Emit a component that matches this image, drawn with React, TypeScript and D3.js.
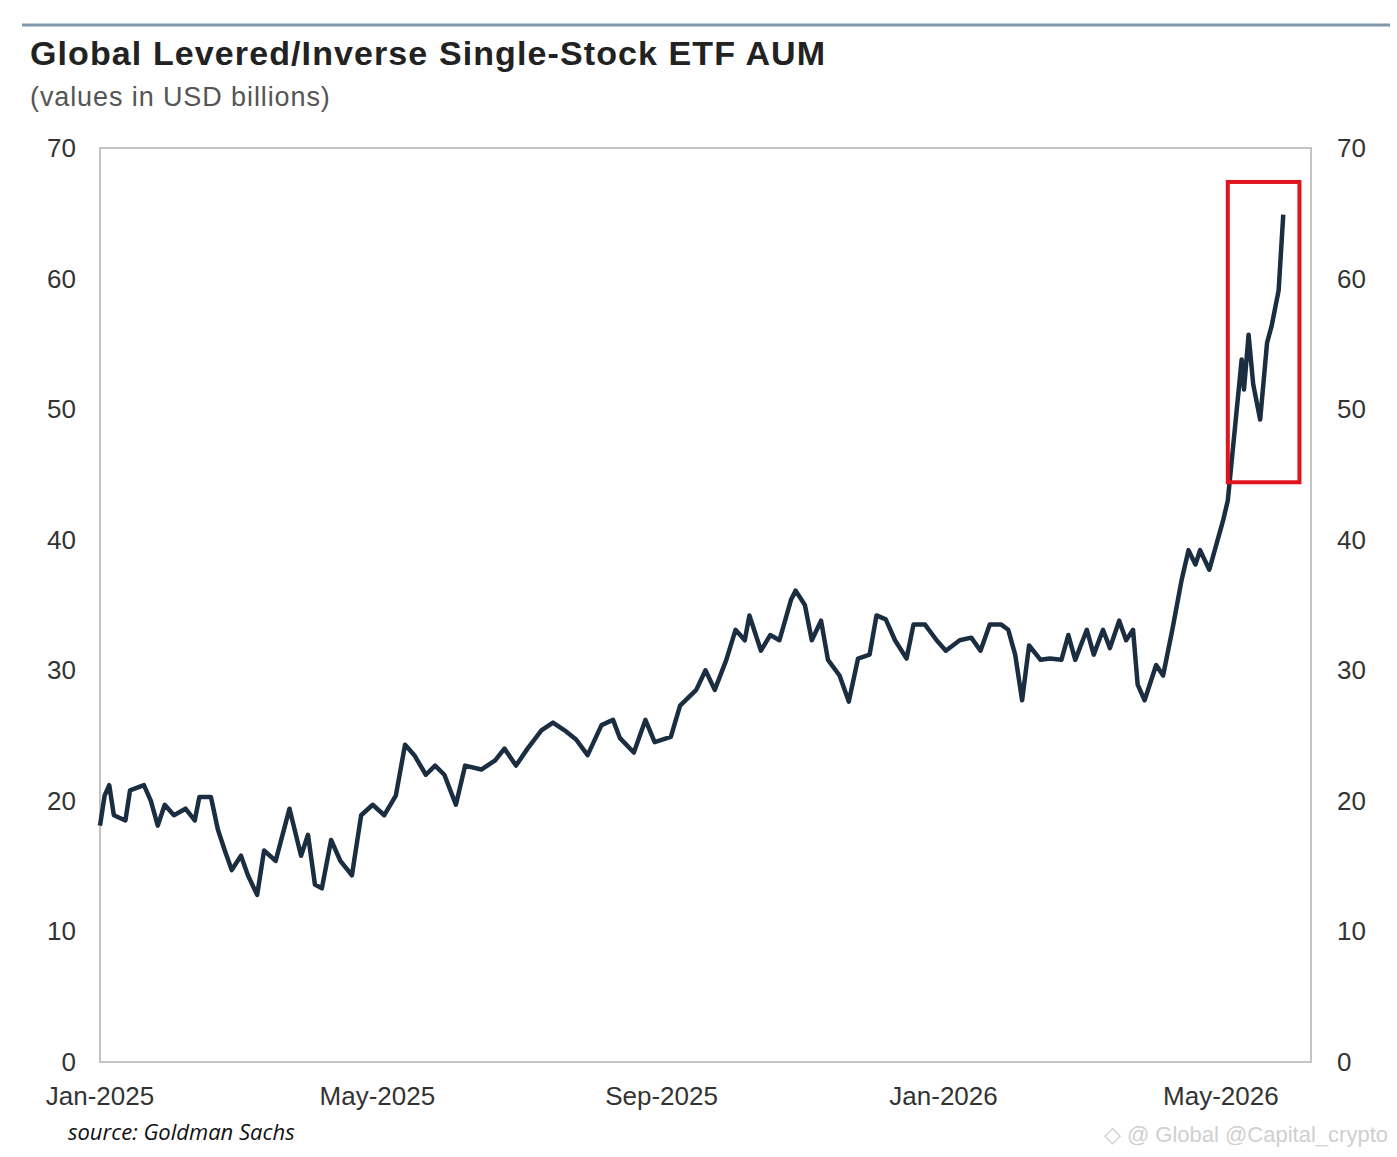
import * as d3 from 'd3';

// days since 2025-01-01 and AUM (USD bn)
const days = [0,2,4,6,11,13,19,22,25,28,32,37,41,43,48,51,54,57,61,64,68,71,76,82,87,90,93,96,100,104,109,113,118,123,128,132,136,141,145,149,154,158,165,171,175,180,185,191,196,201,206,211,217,222,225,231,236,240,247,251,258,262,266,271,275,279,281,286,290,294,299,301,305,308,312,315,320,324,328,333,336,340,344,349,352,357,362,366,372,377,381,385,390,393,396,399,402,407,411,416,419,422,427,430,434,437,441,444,447,449,452,457,460,464,468,471,474,476,480,483,486,488,491,494,495,497,499,502,505,507,510,512];
const aum = [18.1,20.4,21.2,18.9,18.5,20.8,21.2,20,18.1,19.7,18.9,19.4,18.5,20.3,20.3,17.8,16.2,14.7,15.8,14.3,12.8,16.2,15.4,19.4,15.8,17.4,13.6,13.3,17,15.4,14.3,18.9,19.7,18.9,20.4,24.3,23.5,22,22.7,22,19.7,22.7,22.4,23.1,24,22.7,24,25.4,26,25.4,24.7,23.5,25.8,26.2,24.8,23.7,26.2,24.5,24.9,27.3,28.5,30,28.5,30.8,33.1,32.3,34.2,31.5,32.7,32.3,35.4,36.1,35,32.3,33.8,30.8,29.6,27.6,30.9,31.2,34.2,33.9,32.3,30.9,33.5,33.5,32.3,31.5,32.3,32.5,31.5,33.5,33.5,33.1,31.2,27.7,31.9,30.8,30.9,30.8,32.7,30.8,33.1,31.2,33.1,31.7,33.8,32.3,33.1,28.9,27.7,30.4,29.6,33.1,36.9,39.2,38.1,39.2,37.7,39.6,41.5,43,48.4,53.8,51.5,55.7,51.9,49.2,55.1,56.4,59.1,64.9];
const yTicks = [0, 10, 20, 30, 40, 50, 60, 70];
const xTicks = ['2025-01-01', '2025-05-01', '2025-09-01', '2026-01-01', '2026-05-01'];
const xTickLabels = ['Jan-2025', 'May-2025', 'Sep-2025', 'Jan-2026', 'May-2026'];
const highlight = { fromDay: 488, toDay: 519, low: 44.4, high: 67.4 };

const start = new Date(2025, 0, 1);
const toDate = (d: number) => d3.timeDay.offset(start, d);

export default function App() {
  const W = 1397, H = 1157;
  const L = 100, R = 1311, T = 148, B = 1062;
  const x = d3.scaleTime().domain([start, new Date(2026, 5, 9)]).range([L, R]);
  const y = d3.scaleLinear().domain([0, 70]).range([B, T]);
  const line = d3.line<number>().x((_, i) => x(toDate(days[i]))).y(v => y(v));
  const font = '"Liberation Sans", Arial, sans-serif';
  return (
    <svg width={W} height={H} style={{ position: 'absolute', left: 0, top: 0, background: '#fff' }} fontFamily={font}>
      <line x1={22} x2={1390} y1={25} y2={25} stroke="#7f97ab" strokeWidth={3} />
      <text x={30} y={65} fontSize={34} fontWeight="bold" fill="#222" letterSpacing={1.1}>Global Levered/Inverse Single-Stock ETF AUM</text>
      <text x={30} y={106} fontSize={27} fill="#555" letterSpacing={0.9}>(values in USD billions)</text>
      <rect x={L} y={T} width={R - L} height={B - T} fill="none" stroke="#c4c4c4" strokeWidth={2} />
      {yTicks.map(t => (
        <g key={t} fontSize={26} fill="#333">
          <text x={76} y={y(t) + 9} textAnchor="end">{t}</text>
          <text x={1337} y={y(t) + 9}>{t}</text>
        </g>
      ))}
      {xTicks.map((t, i) => (
        <text key={t} x={x(new Date(t + 'T00:00:00'))} y={1105} fontSize={26} fill="#333" textAnchor="middle">{xTickLabels[i]}</text>
      ))}
      <path d={line(aum) || ''} fill="none" stroke="#1b2d40" strokeWidth={4.5} strokeLinejoin="round" />
      <rect x={x(toDate(highlight.fromDay))} y={y(highlight.high)}
        width={x(toDate(highlight.toDay)) - x(toDate(highlight.fromDay))}
        height={y(highlight.low) - y(highlight.high)}
        fill="none" stroke="#e0141e" strokeWidth={4} />
      <text x={68} y={1140} fontSize={22} fontStyle="italic" fill="#111" fontFamily='"Open Sans", sans-serif'>source: Goldman Sachs</text>
      <text x={1388} y={1142} fontSize={22} fill="#d0d0d0" textAnchor="end">◇ @ Global @Capital_crypto</text>
    </svg>
  );
}
